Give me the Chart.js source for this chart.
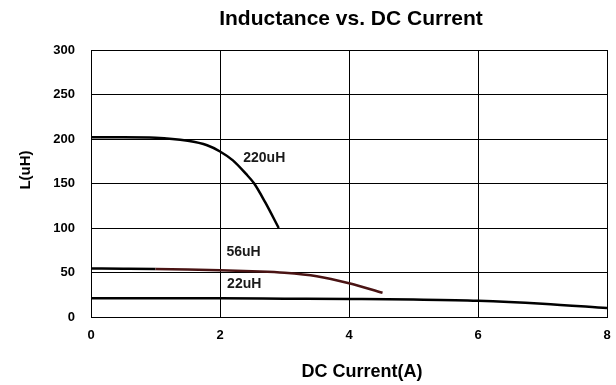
<!DOCTYPE html>
<html>
<head>
<meta charset="utf-8">
<script src="https://cdn.jsdelivr.net/npm/chart.js@4.4.1/dist/chart.umd.min.js"></script>
<style>
  html, body { margin: 0; padding: 0; background: #fff; }
  #wrap { width: 616px; height: 385px; }
</style>
</head>
<body>
<div id="wrap"><canvas id="lChart" width="616" height="385"></canvas></div>
<script>
// inductance curves, read per part
const current220 = [0, 0.5, 1, 1.5, 1.8, 2, 2.2, 2.4, 2.53, 2.7, 2.91];
const induct220 = [202, 202, 201.5, 198, 193, 186, 176, 161, 150, 129, 100];

const current56 = [0, 0.5, 1, 1.5, 2, 2.5, 3, 3.5, 4, 4.52];
const induct56 = [54.5, 54.3, 54, 53.4, 52.5, 51.3, 49.6, 45.8, 38, 27.3];

const current22 = [0, 1, 2, 3, 4, 5, 6, 7, 8];
const induct22 = [21, 21, 21, 20.6, 20.2, 19.6, 18.3, 15, 10];

const xTicks = [0, 2, 4, 6, 8];
const yTicks = [0, 50, 100, 150, 200, 250, 300];

const curveLabels = [
    { text: '220uH', x: 2.36, y: 178.5 },
    { text: '56uH', x: 2.1, y: 73.4 },
    { text: '22uH', x: 2.11, y: 36.7 }
];

const FONT = '"Liberation Sans", Arial, sans-serif';

function toPoints(xs, ys) {
    return xs.map((x, i) => ({ x: x, y: ys[i] }));
}

// titles and curve names drawn straight onto the canvas
const textPlugin = {
    id: 'textPlugin',
    afterDraw(chart) {
        const ctx = chart.ctx;
        const xs = chart.scales.x, ys = chart.scales.y;
        ctx.save();
        ctx.fillStyle = '#000';
        ctx.textAlign = 'center';
        ctx.textBaseline = 'alphabetic';

        ctx.font = 'bold 21px ' + FONT;
        ctx.fillText('Inductance vs. DC Current', 351, 25);

        ctx.font = 'bold 18px ' + FONT;
        ctx.fillText('DC Current(A)', 362, 377);

        ctx.save();
        ctx.translate(30, 170);
        ctx.rotate(-Math.PI / 2);
        ctx.font = 'bold 15px ' + FONT;
        ctx.fillText('L(uH)', 0, 0);
        ctx.restore();

        ctx.font = 'bold 14px ' + FONT;
        ctx.textAlign = 'left';
        ctx.textBaseline = 'middle';
        ctx.fillStyle = '#1a1a1a';
        curveLabels.forEach(l => {
            ctx.fillText(l.text, xs.getPixelForValue(l.x), ys.getPixelForValue(l.y));
        });
        ctx.restore();
    }
};

document.addEventListener('DOMContentLoaded', function() {
    const ctx = document.getElementById('lChart').getContext('2d');
    new Chart(ctx, {
        type: 'line',
        data: {
            datasets: [{
                label: '220uH',
                data: toPoints(current220, induct220),
                borderColor: '#000',
                borderWidth: 2.5,
                pointRadius: 0,
                cubicInterpolationMode: 'monotone'
            }, {
                label: '56uH',
                data: toPoints(current56, induct56),
                borderColor: '#000',
                borderWidth: 2.5,
                pointRadius: 0,
                cubicInterpolationMode: 'monotone',
                segment: {
                    borderColor: c => c.p0.parsed.x >= 1 ? '#4a1414' : '#000'
                }
            }, {
                label: '22uH',
                data: toPoints(current22, induct22),
                borderColor: '#000',
                borderWidth: 2.5,
                pointRadius: 0,
                cubicInterpolationMode: 'monotone'
            }]
        },
        options: {
            responsive: false,
            animation: false,
            layout: { padding: { top: 50, right: 9, left: 0, bottom: 0 } },
            plugins: {
                legend: { display: false },
                tooltip: { enabled: false }
            },
            scales: {
                x: {
                    type: 'linear',
                    min: 0,
                    max: 8,
                    afterBuildTicks: s => { s.ticks = xTicks.map(v => ({ value: v })); },
                    afterFit: s => {
                        s.height = 68;
                        s.paddingLeft = 0;
                        s.paddingRight = 0;
                    },
                    grid: { color: '#000', lineWidth: 1, drawTicks: false },
                    border: { color: '#000', width: 1 },
                    ticks: {
                        padding: 11,
                        color: '#000',
                        font: { family: FONT, size: 13, weight: 'bold' }
                    }
                },
                y: {
                    min: 0,
                    max: 300,
                    afterBuildTicks: s => { s.ticks = yTicks.map(v => ({ value: v })); },
                    afterFit: s => {
                        s.width = 91;
                        s.paddingTop = 0;
                        s.paddingBottom = 0;
                    },
                    grid: { color: '#000', lineWidth: 1, drawTicks: false },
                    border: { color: '#000', width: 1 },
                    ticks: {
                        padding: 16,
                        color: '#000',
                        font: { family: FONT, size: 13, weight: 'bold' }
                    }
                }
            }
        },
        plugins: [textPlugin]
    });
});
</script>
</body>
</html>
